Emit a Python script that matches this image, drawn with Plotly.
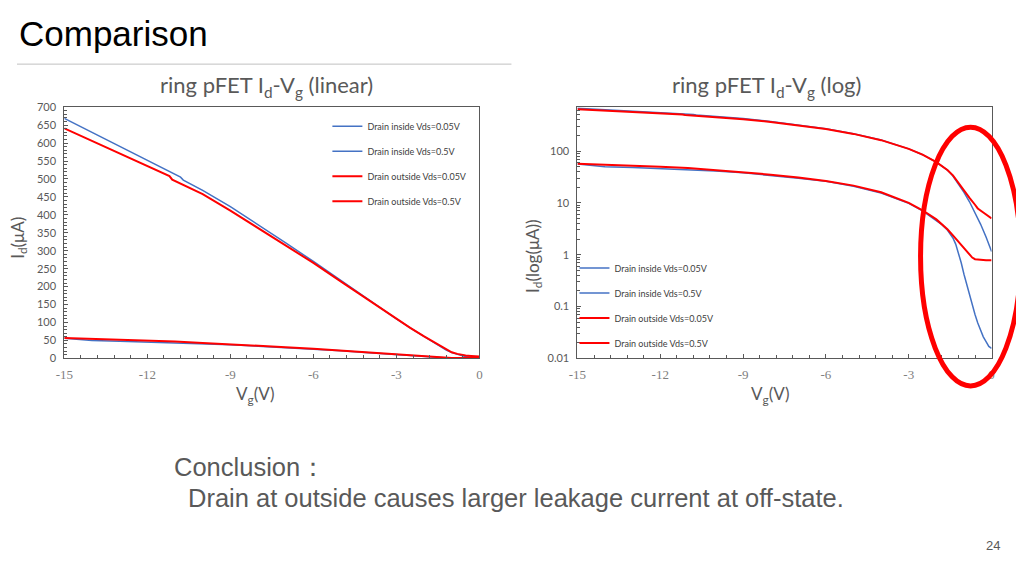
import plotly.graph_objects as go

# ---------------- data ----------------
vg_in_05 = [-15, -14, -13, -12, -11, -10.8, -10.7, -10, -9, -8, -7, -6, -5, -4, -3, -2.5, -2, -1.8, -1.6,
            -1.4, -1.2, -1.0, -0.8, -0.6, -0.55, -0.5, -0.4, -0.2, 0]
id_in_05 = [669, 630, 591, 552, 513, 505, 497, 468, 423, 373, 322, 270, 216, 163, 110, 85, 61, 52, 43,
            33, 23, 16, 10.5, 6.5, 5.6, 5.0, 3.9, 2.2, 1.15]

vg_out_05 = [-15, -14, -13, -12, -11.3, -11.2, -11.1, -10, -9, -8, -7, -6, -5, -4, -3, -2.5, -2, -1.8,
             -1.6, -1.4, -1.2, -1.0, -0.8, -0.6, -0.5, -0.3, -0.1, 0]
id_out_05 = [641, 606, 571, 536, 511, 508, 498, 458, 412, 363, 315, 266, 214, 162, 110, 85, 61, 52,
             43, 34, 24, 17, 12.5, 9.2, 7.8, 6.5, 5.5, 5.0]

vg_in_005 = [-15, -14.5, -14, -13, -12, -11, -10, -9, -8, -7, -6, -5, -4, -3, -2.5, -2, -1.8, -1.6, -1.4,
             -1.3, -1.2, -1.1, -1.0, -0.9, -0.8, -0.7, -0.6, -0.5, -0.4, -0.3, -0.2, -0.1, 0]
id_in_005 = [56, 53, 50, 48, 46, 43, 41, 38, 34, 30, 26, 21, 15.5, 9.8, 7.0, 4.6, 3.8, 3.0, 2.1,
             1.6, 1.1, 0.7, 0.42, 0.26, 0.16, 0.105, 0.07, 0.048, 0.034, 0.026, 0.021, 0.017, 0.0155]

vg_out_005 = [-15, -14, -13, -12, -11, -10, -9, -8, -7, -6, -5, -4, -3, -2.5, -2, -1.8, -1.6, -1.4,
              -1.2, -1.0, -0.8, -0.7, -0.6, -0.4, -0.2, 0]
id_out_005 = [57, 55, 53, 50, 47, 43, 39.5, 35, 31, 26.5, 21.5, 16, 10, 7.2, 4.8, 3.9, 3.1, 2.35,
              1.75, 1.3, 0.98, 0.88, 0.82, 0.79, 0.78, 0.78]

series_names = ["Drain inside Vds=0.05V", "Drain inside Vds=0.5V",
                "Drain outside Vds=0.05V", "Drain outside Vds=0.5V"]
x_ticks = [-15, -12, -9, -6, -3, 0]
x_tick_text = ["-15", "-12", "-9", "-6", "-3", "0"]
y_ticks_lin = list(range(0, 701, 50))
y_ticks_log = [0.01, 0.1, 1, 10, 100]
y_tick_text_log = ["0.01", "0.1", "1", "10", "100"]

BLUE = "#4472C4"
RED = "#FF0000"
GRAY = "#595959"
W, H = 1024, 576
# observed placement of the figure in the photographed window
OX, SX, OY, SY = 16.7, 0.988, 15.0, 0.975

def px(x):
    return max(0.0, (x - OX) / SX) / W

def py(y):
    return 1 - max(0.0, (y - OY) / SY) / H

series = [
    (vg_in_005, id_in_005, series_names[0], BLUE, 1.5),
    (vg_in_05, id_in_05, series_names[1], BLUE, 1.5),
    (vg_out_005, id_out_005, series_names[2], RED, 2),
    (vg_out_05, id_out_05, series_names[3], RED, 2),
]

fig = go.Figure()
for i, (x, y, name, col, w) in enumerate(series):
    fig.add_trace(go.Scatter(x=x, y=y, name=name, mode="lines",
                             line=dict(color=col, width=w),
                             xaxis="x", yaxis="y", legend="legend",
                             legendgroup="a%d" % i))
for i, (x, y, name, col, w) in enumerate(series):
    fig.add_trace(go.Scatter(x=x, y=y, name=name, mode="lines",
                             line=dict(color=col, width=w),
                             xaxis="x2", yaxis="y2", legend="legend2",
                             legendgroup="b%d" % i))

xcommon = dict(range=[-15, 0], tickvals=x_ticks, ticktext=x_tick_text, ticks="inside", ticklen=4,
               tickcolor=GRAY, showline=True, linecolor=GRAY, linewidth=1, mirror=True,
               showgrid=False, zeroline=False, ticklabelstandoff=4,
               tickfont=dict(family="Liberation Serif", size=13, color="#7f7f7f"),
               minor=dict(dtick=0.6, tick0=0, ticks="inside", ticklen=3, tickcolor=GRAY))

ycommon = dict(ticks="inside", ticklen=4, tickcolor=GRAY, showline=True, linecolor=GRAY,
               linewidth=1, mirror=True, showgrid=False, zeroline=False, ticklabelstandoff=5,
               tickfont=dict(family="Lato", size=11, color=GRAY))

fig.update_layout(
    width=W, height=H, autosize=False,
    margin=dict(l=0, r=0, t=0, b=0),
    paper_bgcolor="white", plot_bgcolor="white",
    xaxis=dict(domain=[px(64), px(479)], anchor="y", **xcommon),
    yaxis=dict(domain=[py(357.5), py(107)], anchor="x", range=[0, 700], tickvals=y_ticks_lin,
               minor=dict(dtick=10, ticks="inside", ticklen=3, tickcolor=GRAY), **ycommon),
    xaxis2=dict(domain=[px(577), px(991)], anchor="y2", **xcommon),
    yaxis2=dict(domain=[py(357.5), py(107)], anchor="x2", type="log",
                range=[-2, 2.845], tickvals=y_ticks_log, ticktext=y_tick_text_log,
                minor=dict(ticks="inside", ticklen=3, tickcolor=GRAY, dtick="D1"), **ycommon),
    legend=dict(x=px(327), y=py(111.5), xanchor="left", yanchor="top",
                bgcolor="rgba(0,0,0,0)", font=dict(family="Lato", size=9, color="#404040"),
                tracegroupgap=6, itemwidth=30),
    legend2=dict(x=px(574), y=py(253), xanchor="left", yanchor="top",
                 bgcolor="rgba(0,0,0,0)", font=dict(family="Lato", size=9, color="#404040"),
                 tracegroupgap=6, itemwidth=30),
    showlegend=True,
)

ann = []
def add_text(text, x, y, size, color=GRAY, family="Lato", xanchor="center", yanchor="middle", angle=0):
    ann.append(dict(text=text, x=px(x), y=py(y), xref="paper", yref="paper", showarrow=False,
                    xanchor=xanchor, yanchor=yanchor, textangle=angle,
                    font=dict(family=family, size=size, color=color)))

add_text("Comparison", 9, 33, 35, color="black", family="Liberation Sans", xanchor="left")
add_text("ring pFET I<sub>d</sub>-V<sub>g</sub> (linear)", 266, 86, 22)
add_text("ring pFET I<sub>d</sub>-V<sub>g</sub> (log)", 766, 86, 22)
add_text("I<sub>d</sub>(μA)", 18, 237, 17, angle=-90)
add_text("I<sub>d</sub>(log(μA))", 533, 255, 17, angle=-90)
add_text("V<sub>g</sub>(V)", 255, 394, 17)
add_text("V<sub>g</sub>(V)", 770, 394, 17)
add_text("Conclusion：", 172, 466, 25.5, family="Liberation Sans", xanchor="left")
add_text("Drain at outside causes larger leakage current at off-state.", 186, 497, 25.5,
         family="Liberation Sans", xanchor="left")
add_text("24", 992, 544, 13, family="Liberation Sans")
fig.update_layout(annotations=ann)

fig.add_shape(type="line", xref="paper", yref="paper", x0=0, x1=px(511), y0=py(64), y1=py(64),
              line=dict(color="#c0c0c0", width=1))
fig.add_shape(type="circle", xref="paper", yref="paper", x0=px(920), x1=px(1020),
              y0=py(385), y1=py(127), line=dict(color=RED, width=5))

fig.write_html("out.html")
